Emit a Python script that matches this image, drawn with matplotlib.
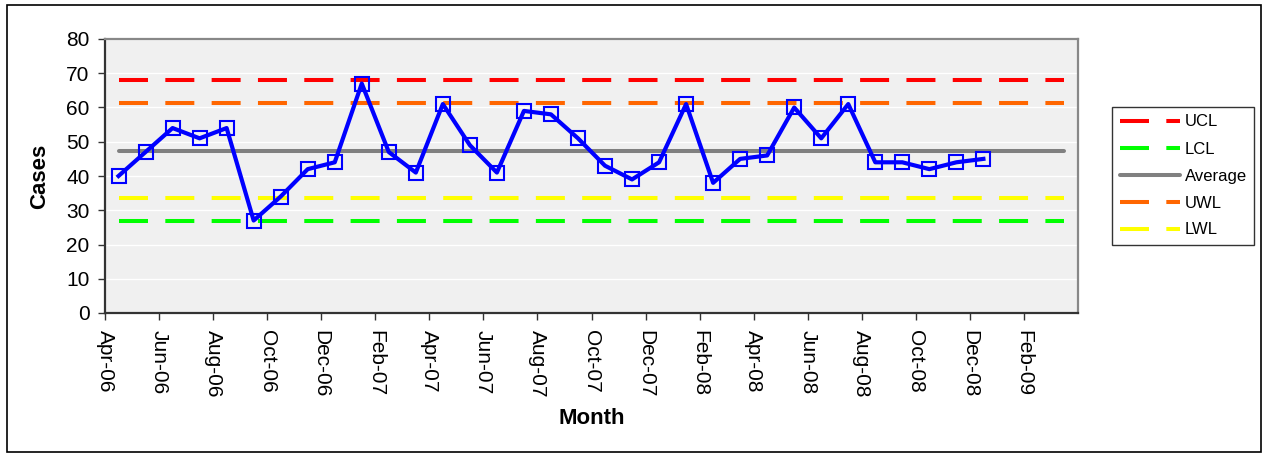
import numpy as np
import matplotlib
matplotlib.use("Agg")
import matplotlib.pyplot as plt
from matplotlib.patches import Rectangle

plt.rcParams["font.family"] = ["Liberation Sans", "DejaVu Sans"]

# Monthly cases, Apr-06 .. Dec-08
cases = [40, 47, 54, 51, 54, 27, 34, 42, 44, 67, 47, 41,
         61, 49, 41, 59, 58, 51, 43, 39, 44, 61, 38, 45,
         46, 60, 51, 61, 44, 44, 42, 44, 45]

# control / warning limits
ucl = 68.0
uwl = 61.3
average = 47.4
lwl = 33.5
lcl = 26.8

n_months = 36  # Apr-06 .. Mar-09 on the axis
tick_labels = ["Apr-06", "Jun-06", "Aug-06", "Oct-06", "Dec-06", "Feb-07",
               "Apr-07", "Jun-07", "Aug-07", "Oct-07", "Dec-07", "Feb-08",
               "Apr-08", "Jun-08", "Aug-08", "Oct-08", "Dec-08", "Feb-09"]

W, H = 1264, 455
fig = plt.figure(figsize=(W / 100, H / 100), dpi=100)
fig.patches.append(Rectangle((7 / W, 3 / H), 1254 / W, 447 / H,
                             transform=fig.transFigure, fill=False,
                             edgecolor="black", linewidth=1.2))

ax = fig.add_axes([105 / W, 1 - 313 / H, 973 / W, 274 / H])
ax.set_facecolor("#f0f0f0")

x_all = np.arange(n_months) + 0.5
x_cases = np.arange(len(cases)) + 0.5

dash = (7.2, 4.3)
ax.plot(x_all, [ucl] * n_months, color="#ff0000", lw=2.9, dashes=dash, label="UCL", zorder=3)
ax.plot(x_all, [lcl] * n_months, color="#00ff00", lw=2.9, dashes=dash, label="LCL", zorder=3)
ax.plot(x_all, [average] * n_months, color="#808080", lw=2.9, solid_capstyle="round",
        label="Average", zorder=3)
ax.plot(x_all, [uwl] * n_months, color="#ff6600", lw=2.9, dashes=dash, label="UWL", zorder=3)
ax.plot(x_all, [lwl] * n_months, color="#ffff00", lw=2.9, dashes=dash, label="LWL", zorder=3)

ax.plot(x_cases, cases, color="#0000ff", lw=3.0, marker="s", markersize=10,
        markerfacecolor="none", markeredgecolor="#0000ff", markeredgewidth=1.5, zorder=4)

ax.set_xlim(0, n_months)
ax.set_ylim(0, 80)
ax.set_yticks(np.arange(0, 81, 10))
ax.set_xticks(np.arange(0, n_months, 2))
ax.set_xticklabels(tick_labels, rotation=-90, ha="center", va="top")
ax.grid(axis="y", color="white", lw=1)
ax.set_axisbelow(True)

ax.tick_params(direction="out", length=5, width=1, colors="#333333",
               labelcolor="black", labelsize=15)
ax.tick_params(axis="x", pad=7)
ax.tick_params(axis="y", pad=6)

for side in ["left", "bottom"]:
    ax.spines[side].set_color("#333333")
    ax.spines[side].set_linewidth(1.6)
for side in ["top", "right"]:
    ax.spines[side].set_color("#888888")
    ax.spines[side].set_linewidth(1.6)

ax.set_ylabel("Cases", fontsize=16, fontweight="bold", labelpad=12)
ax.set_xlabel("Month", fontsize=16, fontweight="bold", labelpad=8)

leg = ax.legend(loc="upper left", bbox_to_anchor=(1112 / W, 1 - 107 / H),
                bbox_transform=fig.transFigure, fontsize=12, frameon=True,
                fancybox=False, edgecolor="black", handlelength=3.6,
                handletextpad=0.3, labelspacing=0.72, borderpad=0.45,
                borderaxespad=0)
leg.get_frame().set_linewidth(1.0)

fig.savefig("out.png", dpi=100)
